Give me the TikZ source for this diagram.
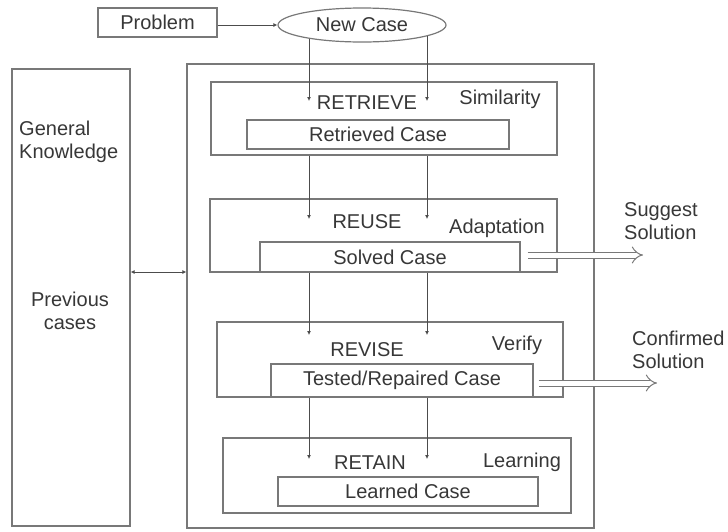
\documentclass[tikz,border=0pt]{standalone}
\usepackage{fontspec}
\setmainfont{Liberation Sans}
\usetikzlibrary{arrows.meta,positioning,shapes,calc}
\definecolor{linegray}{RGB}{120,120,120}
\definecolor{textgray}{RGB}{55,55,55}

\begin{document}
\begin{tikzpicture}[x=1pt,y=-1pt,
    every node/.style={font=\fontsize{20}{23}\selectfont, text=textgray, inner sep=1pt},
    box/.style={rectangle, draw=linegray, line width=1.2pt, inner sep=0pt},
    flow/.style={draw=black!70, line width=0.9pt, -{Latex[length=4pt,width=4pt]}},
    result/.style={draw=linegray, line width=1pt, double=white, double distance=5pt, -{Implies[length=9pt]}}]
    \useasboundingbox (0,0) rectangle (728,531);

    % input
    \node[box, minimum width=119pt, minimum height=29pt] (prob) at (157.5,22.5) {Problem};
    \node[ellipse, draw=linegray, line width=1.2pt, minimum width=168pt, minimum height=34pt, inner sep=0pt] (newcase) at (362,25) {New Case};

    % knowledge base
    \node[box, minimum width=118pt, minimum height=457pt] (kb) at (71,297.5) {};
    \node[align=left, anchor=west] (genk) at (18,141.5) {General\\Knowledge};
    \node[align=center] (prev) at (70,311) {Previous\\cases};

    % cycle
    \node[box, minimum width=407pt, minimum height=464pt] (cbr) at (390.5,296) {};

    \node[box, minimum width=346pt, minimum height=73pt] (retrieve) at (384,118.5) {};
    \node[box, minimum width=262pt, minimum height=29pt] (retrieved) at (378,134.5) {Retrieved Case};
    \node (retrievelbl) at (367,103) {RETRIEVE};
    \node (simlbl) at (500,99) {Similarity};

    \node[box, minimum width=347pt, minimum height=73pt] (reuse) at (383.5,235.5) {};
    \node[box, minimum width=260pt, minimum height=30pt] (solved) at (390,257) {Solved Case};
    \node (reuselbl) at (367,222) {REUSE};
    \node (adaptlbl) at (497,228) {Adaptation};

    \node[box, minimum width=346pt, minimum height=75pt] (revise) at (390,359.5) {};
    \node[box, minimum width=262pt, minimum height=33pt] (tested) at (402,380.5) {Tested/Repaired Case};
    \node (reviselbl) at (367,350) {REVISE};
    \node (verifylbl) at (517,345) {Verify};

    \node[box, minimum width=348pt, minimum height=75pt] (retain) at (397,475.5) {};
    \node[box, minimum width=260pt, minimum height=29pt] (learned) at (408,491.5) {Learned Case};
    \node (retainlbl) at (370,463) {RETAIN};
    \node (learnlbl) at (522,462) {Learning};

    % outputs
    \node[align=left, anchor=west] (sugtxt) at (623,221.5) {Suggest\\Solution};
    \node[align=left, anchor=west] (conftxt) at (631,350) {Confirmed\\Solution};

    % arrow ends
    \coordinate (t1a) at (309,101);
    \coordinate (t1b) at (427,101);
    \coordinate (t2a) at (309,219);
    \coordinate (t2b) at (427,219);
    \coordinate (t3a) at (309,335);
    \coordinate (t3b) at (427,335);
    \coordinate (t4a) at (309,459);
    \coordinate (t4b) at (427,459);
    \coordinate (lnk) at (158,272);
    \coordinate (sug) at (643,255);
    \coordinate (conf) at (657,383);

    \draw[flow] (prob.east |- newcase.west) -- (newcase.west);
    \draw[flow] (newcase.194 -| t1a) -- (t1a);
    \draw[flow] (newcase.350 -| t1b) -- (t1b);
    \draw[flow] (retrieve.south -| t2a) -- (t2a);
    \draw[flow] (retrieve.south -| t2b) -- (t2b);
    \draw[flow] (reuse.south -| t3a) -- (t3a);
    \draw[flow] (reuse.south -| t3b) -- (t3b);
    \draw[flow] (revise.south -| t4a) -- (t4a);
    \draw[flow] (revise.south -| t4b) -- (t4b);
    \draw[flow, {Latex[length=4pt,width=4pt]}-{Latex[length=4pt,width=4pt]}] (kb.east |- lnk) -- (cbr.west |- lnk);

    \draw[result, shorten <=7pt] (solved.east |- sug) -- (sug);
    \draw[result, shorten <=5pt] (tested.east |- conf) -- (conf);
\end{tikzpicture}
\end{document}
